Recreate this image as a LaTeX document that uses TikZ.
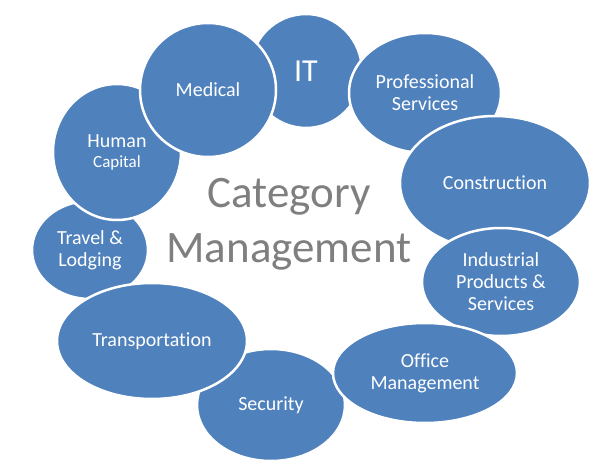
\documentclass[tikz,border=0pt]{standalone}
\usepackage{fontspec}
\setmainfont{Carlito}[Ligatures=NoCommon]
\usepackage{tikz}
\usetikzlibrary{shapes.geometric}
\definecolor{catblue}{HTML}{4F81BD}
\definecolor{catgray}{HTML}{7F7F7F}

\begin{document}
\begin{tikzpicture}[x=1pt, y=-1pt,
            area/.style={ellipse, draw=white, line width=2.5pt, fill=catblue, text=white, inner sep=0pt, align=center, font=\fontsize{20}{22}\selectfont},
            title/.style={text=catgray, align=center, font=\fontsize{45}{55}\selectfont}
        ]

        \useasboundingbox (0,0) rectangle (600,476);

        % Bereiche
        \node[area, minimum width=112pt, minimum height=114pt, font=\fontsize{32}{36}\selectfont] (it) at (306,71) {IT};
        \node[area, minimum width=152pt, minimum height=120pt] (prof) at (425,93) {Professional\\Services};
        \node[area, minimum width=190pt, minimum height=134pt] (constr) at (495,183) {Construction};
        \node[area, minimum width=158pt, minimum height=108pt] (indus) at (501,282) {Industrial\\Products \&\\Services};
        \node[area, minimum width=148pt, minimum height=112pt] (secur) at (271,405) {Security};
        \node[area, minimum width=184pt, minimum height=100pt] (office) at (425,373) {Office\\Management};
        \node[area, minimum width=116pt, minimum height=98pt] (travel) at (90,250) {Travel \&\\Lodging};
        \node[area, minimum width=190pt, minimum height=116pt] (transp) at (152,341) {Transportation};
        \node[area, minimum width=128pt, minimum height=136pt] (human) at (117,152) {Human\\[-2pt]{\fontsize{17}{20}\selectfont Capital}};
        \node[area, minimum width=136pt, minimum height=134pt] (medic) at (208,90) {Medical};

        % Mitte
        \node[title] (cat) at (289,224) {Category\\Management};

    \end{tikzpicture}
\end{document}
